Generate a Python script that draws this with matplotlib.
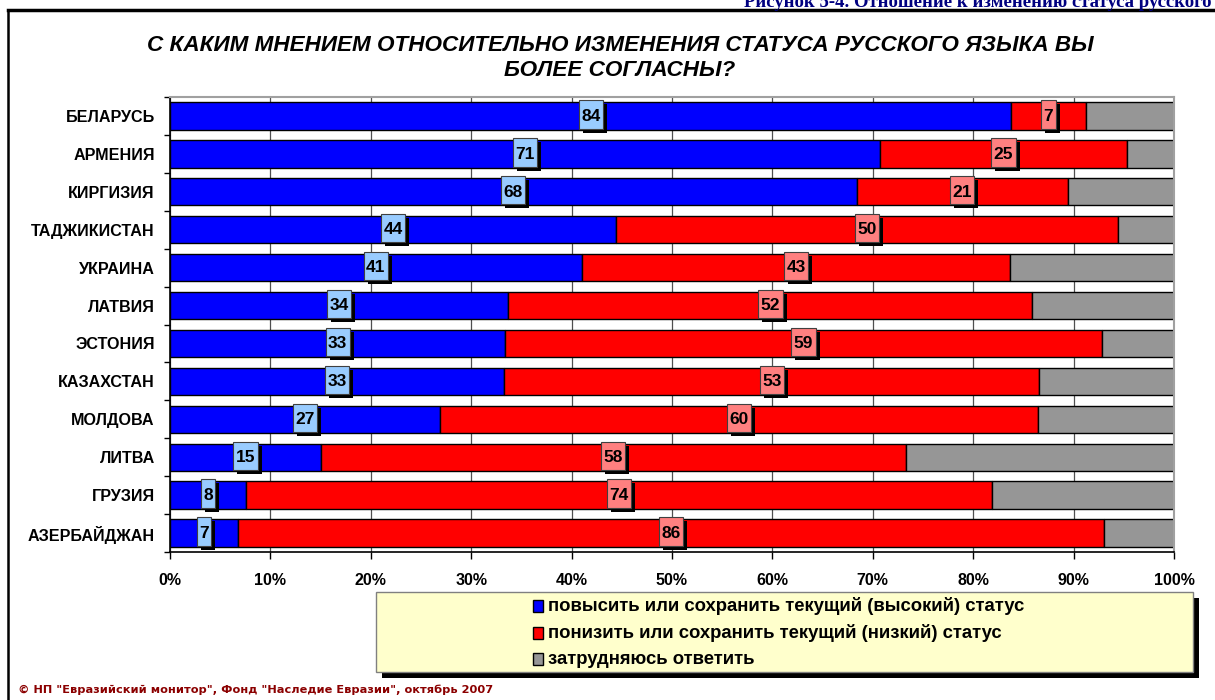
import matplotlib
matplotlib.use("Agg")
import matplotlib.pyplot as plt
import matplotlib.patches as mpatches
from matplotlib.transforms import IdentityTransform
import numpy as np

# ---------------- data ----------------
countries = ["БЕЛАРУСЬ", "АРМЕНИЯ", "КИРГИЗИЯ", "ТАДЖИКИСТАН", "УКРАИНА", "ЛАТВИЯ",
             "ЭСТОНИЯ", "КАЗАХСТАН", "МОЛДОВА", "ЛИТВА", "ГРУЗИЯ", "АЗЕРБАЙДЖАН"]
raise_keep_high = [83.8, 70.7, 68.4, 44.4, 41.0, 33.7, 33.4, 33.3, 26.9, 15.0, 7.6, 6.8]
lower_keep_low = [7.4, 24.6, 21.0, 50.0, 42.7, 52.2, 59.4, 53.3, 59.6, 58.3, 74.3, 86.2]
hard_to_say = [8.8, 4.7, 10.6, 5.6, 16.3, 14.1, 7.2, 13.4, 13.5, 26.7, 18.1, 7.0]
series_names = ["повысить или сохранить текущий (высокий) статус",
                "понизить или сохранить текущий (низкий) статус",
                "затрудняюсь ответить"]
x_ticks = [0, 10, 20, 30, 40, 50, 60, 70, 80, 90, 100]
x_tick_labels = ["0%", "10%", "20%", "30%", "40%", "50%", "60%", "70%", "80%", "90%", "100%"]
title = "С КАКИМ МНЕНИЕМ ОТНОСИТЕЛЬНО ИЗМЕНЕНИЯ СТАТУСА РУССКОГО ЯЗЫКА ВЫ\nБОЛЕЕ СОГЛАСНЫ?"
header = "Рисунок 5-4. Отношение к изменению статуса русского"
source = "© НП \"Евразийский монитор\", Фонд \"Наследие Евразии\", октябрь 2007"

colors = ["#0000FF", "#FF0000", "#969696"]
label_bg = ["#99CCFF", "#FF8080"]

W, H = 1215, 700
plt.rcParams['font.family'] = ['Liberation Sans', 'DejaVu Sans']
fig = plt.figure(figsize=(W / 100, H / 100), dpi=100)
fig.patch.set_facecolor("white")

ax = fig.add_axes([170 / W, 1 - 552 / H, (1174 - 170) / W, (552 - 97) / H])

vals = np.array([raise_keep_high, lower_keep_low, hard_to_say])
tot = vals.sum(axis=0)
pct = vals / tot * 100
y = np.arange(len(countries))
left = np.zeros(len(countries))
bh = 0.72
for k in range(3):
    ax.barh(y, pct[k], left=left, height=bh, color=colors[k], edgecolor="black",
            linewidth=1.0, zorder=2)
    left = left + pct[k]

ax.set_xlim(0, 100)
ax.set_ylim(len(countries) - 0.5, -0.5)
ax.set_xticks(x_ticks)
ax.set_xticklabels(x_tick_labels, fontsize=11.5, fontweight="bold")
ax.set_yticks(y)
ax.set_yticklabels(countries, fontsize=11.6, fontweight="bold")
ax.set_yticks(np.arange(len(countries) + 1) - 0.5, minor=True)
ax.tick_params(axis="y", which="major", length=0, pad=11)
ax.tick_params(axis="y", which="minor", length=4, width=1, color="black")
ax.tick_params(axis="x", which="major", length=5, width=1, direction="out", pad=10)
ax.xaxis.grid(True, color="#505050", linewidth=0.9, zorder=0)
ax.set_axisbelow(True)
for s in ["left", "bottom"]:
    ax.spines[s].set_color("black")
    ax.spines[s].set_linewidth(1.2)
for s in ["top", "right"]:
    ax.spines[s].set_color("#A0A0A0")
    ax.spines[s].set_linewidth(1.5)

# value labels (numbers) for first two series, centred on segments
fig.canvas.draw()
r = fig.canvas.get_renderer()
bar_px = abs(ax.transData.transform((0, 0))[1] - ax.transData.transform((0, bh))[1])
lab_fs = 12.5
cap_px = lab_fs * 100 / 72 * 0.716
left = np.zeros(len(countries))
for k in range(2):
    for i in range(len(countries)):
        cxd = left[i] + pct[k][i] / 2
        cx, cy = ax.transData.transform((cxd, y[i]))
        cy_box = cy + 1.5
        t = ax.text(cx, cy_box - cap_px / 2, f"{vals[k][i]:.0f}", ha="center",
                    va="baseline", fontsize=lab_fs, fontweight="bold", color="black",
                    zorder=8, transform=IdentityTransform(), clip_on=False)
        bb = t.get_window_extent(r)
        w = bb.width + 5
        h = bar_px + 1
        x0 = cx - w / 2
        y0 = cy_box - h / 2
        ax.add_patch(mpatches.Rectangle((x0 + 4, y0 - 4), w, h,
                                        transform=IdentityTransform(),
                                        facecolor="black", edgecolor="none", zorder=6,
                                        clip_on=False))
        ax.add_patch(mpatches.Rectangle((x0, y0), w, h, transform=IdentityTransform(),
                                        facecolor=label_bg[k], edgecolor="#404040",
                                        linewidth=0.8, zorder=7, clip_on=False))
    left = left + pct[k]

# title
fig.text(620 / W, 1 - 58 / H, title, ha="center", va="center", fontsize=16.2,
         fontweight="bold", fontstyle="italic", linespacing=1.3)

# cropped header at the top (as in the reference, partly cut by the image edge)
fig.text(1211 / W, 1 - 7 / H, header, ha="right", va="baseline", fontsize=13.5,
         fontweight="bold", color="#000080", family=["Liberation Serif", "DejaVu Serif"])

# frame lines
fig.add_artist(plt.Line2D([8 / W, 1], [1 - 10 / H, 1 - 10 / H], color="black",
                          linewidth=2.5, transform=fig.transFigure))
fig.add_artist(plt.Line2D([8 / W, 8 / W], [0, 1 - 10 / H], color="black",
                          linewidth=1.8, transform=fig.transFigure))

# legend box
lx0, lx1, ly0, ly1 = 376, 1193, 592, 672
fig.add_artist(mpatches.Rectangle(((lx0 + 6) / W, 1 - (ly1 + 6) / H), (lx1 - lx0) / W,
                                  (ly1 - ly0) / H, transform=fig.transFigure,
                                  facecolor="black", edgecolor="none", zorder=1))
fig.add_artist(mpatches.Rectangle((lx0 / W, 1 - ly1 / H), (lx1 - lx0) / W,
                                  (ly1 - ly0) / H, transform=fig.transFigure,
                                  facecolor="#FFFFCC", edgecolor="#808080",
                                  linewidth=1.0, zorder=2))
entry_y = [606, 633, 659]
for k in range(3):
    fig.add_artist(mpatches.Rectangle((533 / W, 1 - (entry_y[k] + 6) / H), 10 / W, 12 / H,
                                      transform=fig.transFigure, facecolor=colors[k],
                                      edgecolor="black", linewidth=1.0, zorder=3))
    fig.text(548 / W, 1 - entry_y[k] / H, series_names[k], ha="left", va="center",
             fontsize=13.3, fontweight="bold", zorder=3)

# source
fig.text(18 / W, 1 - 690 / H, source, ha="left", va="center", fontsize=8.2,
         fontweight="bold", color="#8B0000", family=["DejaVu Sans"])

fig.savefig("out.png", dpi=100)
